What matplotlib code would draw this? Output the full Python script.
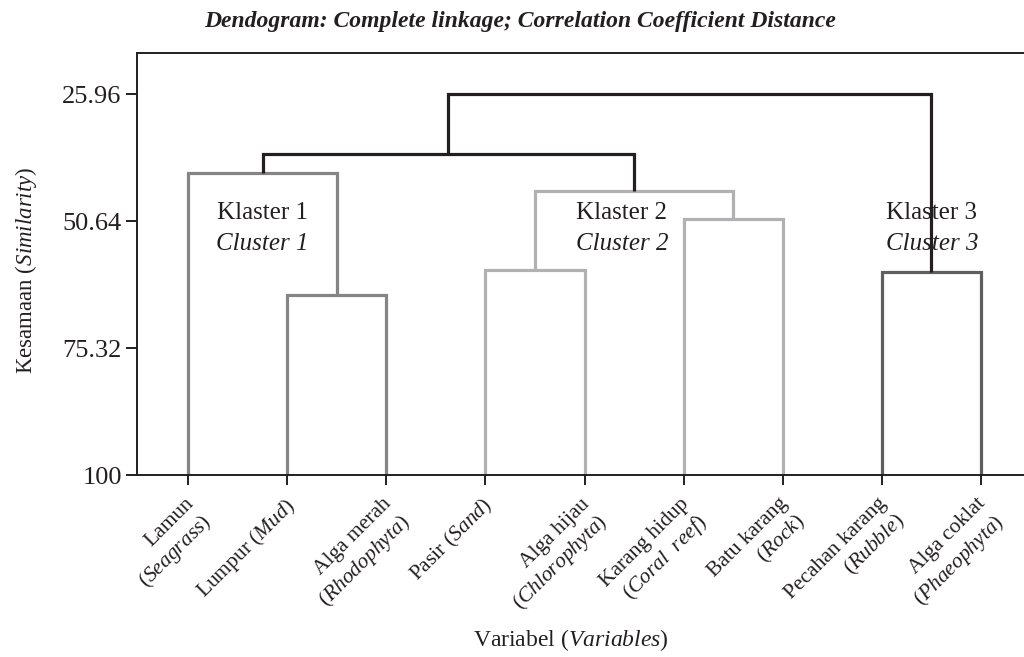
import matplotlib
matplotlib.use("Agg")
import matplotlib.pyplot as plt

plt.rcParams['font.family'] = ['Liberation Serif', 'DejaVu Serif']
plt.rcParams['mathtext.fontset'] = 'custom'
plt.rcParams['mathtext.rm'] = 'Liberation Serif'
plt.rcParams['mathtext.it'] = 'Liberation Serif:italic'
plt.rcParams['mathtext.bf'] = 'Liberation Serif:bold'

# ---- data ----
leaf_names = ["Lamun\n($\\mathit{Seagrass}$)",
              "Lumpur ($\\mathit{Mud}$)",
              "Alga merah\n($\\mathit{Rhodophyta}$)",
              "Pasir ($\\mathit{Sand}$)",
              "Alga hijau\n($\\mathit{Chlorophyta}$)",
              "Karang hidup\n($\\mathit{Coral\\ \\ reef}$)",
              "Batu karang\n($\\mathit{Rock}$)",
              "Pecahan karang\n($\\mathit{Rubble}$)",
              "Alga coklat\n($\\mathit{Phaeophyta}$)"]
# merges: (child_a, child_b, similarity level); new node ids start at 9
merge_a = [1, 3, 7, 5, 0, 10, 13, 15]
merge_b = [2, 4, 8, 6, 9, 12, 14, 11]
merge_sim = [65.09, 60.18, 60.57, 50.15, 41.28, 44.72, 37.60, 25.96]
merge_group = [1, 2, 3, 2, 1, 2, 0, 0]
ytick_vals = [25.96, 50.64, 75.32, 100]
ytick_labels = ["25.96", "50.64", "75.32", "100"]
cluster_klaster = ["Klaster 1", "Klaster 2", "Klaster 3"]
cluster_english = ["Cluster 1", "Cluster 2", "Cluster 3"]

group_colors = {0: "#231f20", 1: "#858585", 2: "#b1b1b3", 3: "#5e5e5e"}

fig = plt.figure(figsize=(10.24, 6.57), dpi=100)
ax = fig.add_axes([137/1024, 1-475/657, 1-137/1024, (475-52.7)/657])

n = len(leaf_names)
node_x = {i: float(i) for i in range(n)}
node_y = {i: 100.0 for i in range(n)}
for k, (a, b, s, g) in enumerate(zip(merge_a, merge_b, merge_sim, merge_group)):
    xa, ya = node_x[a], node_y[a]
    xb, yb = node_x[b], node_y[b]
    ax.plot([xa, xa, xb, xb], [ya, s, s, yb], color=group_colors[g], lw=2.3,
            solid_joinstyle='miter', solid_capstyle='butt', zorder=3 if g == 0 else 2)
    nid = n + k
    node_x[nid] = (xa + xb) / 2
    node_y[nid] = s

ax.set_xlim(-0.518, 8.437)
ax.set_ylim(100, 17.89)
ax.spines['right'].set_visible(False)
for sp in ['left', 'bottom', 'top']:
    ax.spines[sp].set_linewidth(1.4)
    ax.spines[sp].set_color("#231f20")

ax.set_yticks(ytick_vals)
ax.set_yticklabels(ytick_labels, fontsize=19, color="#231f20")
ax.tick_params(axis='y', length=8, width=1.4, pad=3, color="#231f20")
ax.set_xticks(range(n))
ax.set_xticklabels([])
ax.tick_params(axis='x', length=7, width=1.4, color="#231f20")

for i, name in enumerate(leaf_names):
    ax.annotate(name, xy=(i, 100), xycoords='data', xytext=(-3, -14),
                textcoords='offset points', rotation=45, rotation_mode='anchor',
                ha='right', va='top', multialignment='right', fontsize=15.5,
                color="#231f20", linespacing=1.2)

# cluster annotations (placed at the cluster nodes)
cl_x = [0.745, 4.376, 7.508]
for k1, k2, cx in zip(cluster_klaster, cluster_english, cl_x):
    ax.text(cx, 49.1, k1, ha='center', va='center', fontsize=18, color="#231f20")
    ax.text(cx, 55.0, k2, ha='center', va='center', fontsize=18, style='italic', color="#231f20")

fig.text(520/1024, 1-21/657, "Dendogram: Complete linkage; Correlation Coefficient Distance",
         ha='center', va='center', fontsize=17, weight='bold', style='italic', color="#231f20")
fig.text(26/1024, 1-270/657, "Kesamaan ($\\mathit{Similarity}$)", rotation=90,
         ha='center', va='center', fontsize=16.5, color="#231f20")
fig.text(571/1024, 1-640/657, "Variabel ($\\mathit{Variables}$)",
         ha='center', va='center', fontsize=17, color="#231f20")

fig.savefig("out.png", dpi=100)
